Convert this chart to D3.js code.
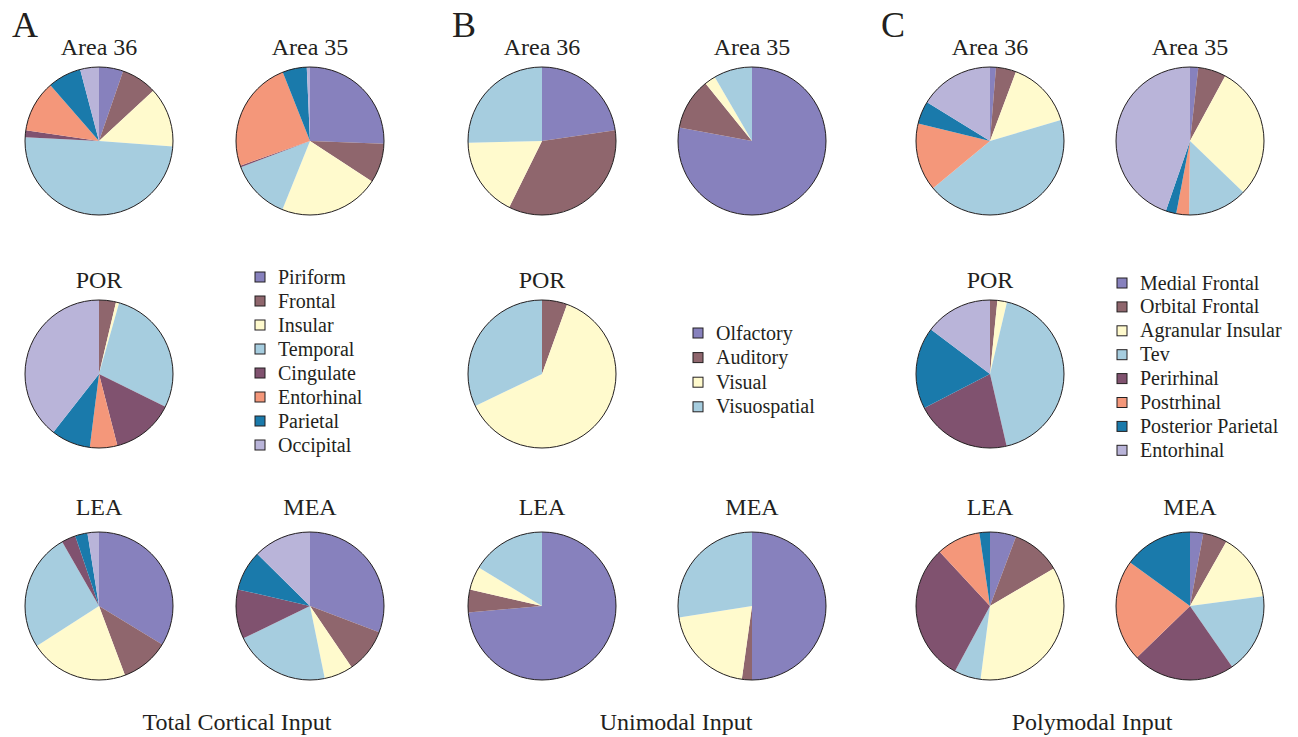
<!DOCTYPE html>
<html>
<head>
<meta charset="utf-8">
<script src="https://cdn.jsdelivr.net/npm/d3@7/dist/d3.min.js"></script>
<style>
  html, body { margin: 0; padding: 0; background: #fff; }
  svg { display: block; font-family: 'Liberation Serif', 'Times New Roman', serif; }
</style>
</head>
<body>
<div id="chart"></div>
<script>
// shared palette, same order in every legend
const COLORS = ['#8781bd', '#8f666d', '#fffacd', '#a6cddf', '#80526f', '#f4977a', '#1a7aab', '#b9b4d9'];

const TOTAL_LABELS = ['Piriform', 'Frontal', 'Insular', 'Temporal', 'Cingulate', 'Entorhinal', 'Parietal', 'Occipital'];
const UNI_LABELS = ['Olfactory', 'Auditory', 'Visual', 'Visuospatial'];
const POLY_LABELS = ['Medial Frontal', 'Orbital Frontal', 'Agranular Insular', 'Tev', 'Perirhinal', 'Postrhinal', 'Posterior Parietal', 'Entorhinal'];

// percent of input
const totalArea36 = [5.3, 7.8, 13.1, 49.6, 1.5, 11.3, 7.3, 4.1];
const totalArea35 = [25.6, 8.6, 21.9, 13.1, 0.4, 24.4, 5.3, 0.7];
const totalPOR = [0, 3.7, 0.7, 27.9, 13.7, 6.0, 8.6, 39.4];
const totalLEA = [33.7, 10.6, 21.6, 25.8, 3.1, 0, 2.7, 2.5];
const totalMEA = [30.8, 9.7, 6.3, 21.0, 10.8, 0, 8.8, 12.6];

const uniArea36 = [22.7, 34.6, 17.3, 25.4];
const uniArea35 = [77.9, 11.3, 2.4, 8.4];
const uniPOR = [0, 5.5, 62.4, 32.1];
const uniLEA = [73.6, 5.0, 5.1, 16.3];
const uniMEA = [50.0, 2.2, 20.3, 27.5];

const polyArea36 = [1.3, 4.4, 14.7, 43.6, 0, 14.8, 5.0, 16.2];
const polyArea35 = [1.8, 6.1, 29.3, 13.0, 0, 2.8, 2.3, 44.7];
const polyPOR = [0, 1.6, 2.1, 42.7, 21.0, 0, 17.9, 14.7];
const polyLEA = [5.7, 10.8, 35.5, 5.8, 30.2, 9.6, 2.3, 0];
const polyMEA = [2.9, 5.3, 14.7, 17.5, 22.4, 22.3, 15.0, 0];

const PANELS = [
  { letter: 'A', caption: 'Total Cortical Input', labels: TOTAL_LABELS,
    pies: { 'Area 36': totalArea36, 'Area 35': totalArea35, POR: totalPOR, LEA: totalLEA, MEA: totalMEA },
    left: 99, right: 310, legendX: 255, legendY: 277, legendStep: 24, captionX: 237 },
  { letter: 'B', caption: 'Unimodal Input', labels: UNI_LABELS,
    pies: { 'Area 36': uniArea36, 'Area 35': uniArea35, POR: uniPOR, LEA: uniLEA, MEA: uniMEA },
    left: 542, right: 752, legendX: 693, legendY: 333, legendStep: 24.6, captionX: 676 },
  { letter: 'C', caption: 'Polymodal Input', labels: POLY_LABELS,
    pies: { 'Area 36': polyArea36, 'Area 35': polyArea35, POR: polyPOR, LEA: polyLEA, MEA: polyMEA },
    left: 990, right: 1190, legendX: 1117, legendY: 283, legendStep: 23.9, captionX: 1092 }
];

const ROWS = [
  { cy: 141, titleY: 55 },
  { cy: 374, titleY: 288 },
  { cy: 606, titleY: 515 }
];
const R = 74;
const TEXT = '#231f20';

const width = 1298, height = 737;
const svg = d3.select('#chart').append('svg')
  .attr('width', width)
  .attr('height', height);

const pie = d3.pie().sort(null).value(d => d);
const arc = d3.arc().innerRadius(0).outerRadius(R);

function drawPie(cx, row, title, values) {
  const g = svg.append('g').attr('transform', `translate(${cx},${row.cy})`);
  g.selectAll('path')
    .data(pie(values))
    .join('path')
    .attr('d', arc)
    .attr('fill', (d, i) => COLORS[i]);
  g.append('circle')
    .attr('r', R)
    .attr('fill', 'none')
    .attr('stroke', TEXT)
    .attr('stroke-width', 1);
  svg.append('text')
    .attr('x', cx)
    .attr('y', row.titleY)
    .attr('text-anchor', 'middle')
    .attr('font-size', '24px')
    .attr('fill', TEXT)
    .text(title);
}

PANELS.forEach((p, pi) => {
  const letterX = [12, 452, 881][pi];
  svg.append('text')
    .attr('x', letterX)
    .attr('y', 37)
    .attr('font-size', '36px')
    .attr('fill', TEXT)
    .text(p.letter);

  drawPie(p.left, ROWS[0], 'Area 36', p.pies['Area 36']);
  drawPie(p.right, ROWS[0], 'Area 35', p.pies['Area 35']);
  drawPie(p.left, ROWS[1], 'POR', p.pies.POR);
  drawPie(p.left, ROWS[2], 'LEA', p.pies.LEA);
  drawPie(p.right, ROWS[2], 'MEA', p.pies.MEA);

  const legend = svg.append('g');
  p.labels.forEach((lab, i) => {
    const y = p.legendY + i * p.legendStep;
    legend.append('rect')
      .attr('x', p.legendX)
      .attr('y', y - 5)
      .attr('width', 10)
      .attr('height', 10)
      .attr('fill', COLORS[i])
      .attr('stroke', TEXT)
      .attr('stroke-width', 1);
    legend.append('text')
      .attr('x', p.legendX + 23)
      .attr('y', y + 6.5)
      .attr('font-size', '20px')
      .attr('fill', TEXT)
      .text(lab);
  });

  svg.append('text')
    .attr('x', p.captionX)
    .attr('y', 730)
    .attr('text-anchor', 'middle')
    .attr('font-size', '24px')
    .attr('fill', TEXT)
    .text(p.caption);
});
</script>
</body>
</html>
